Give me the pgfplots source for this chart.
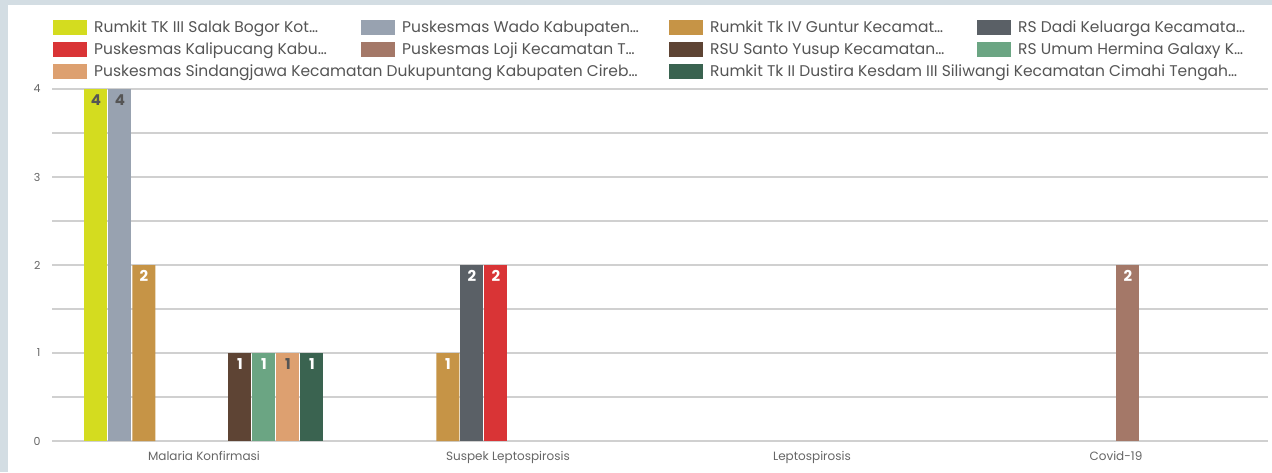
\documentclass[border=0pt]{standalone}
\usepackage{pgfplots}
\pgfplotsset{compat=1.18}
\usepackage{fontspec}
\setmainfont{Poppins}
\definecolor{c1}{HTML}{D4DC1F}
\definecolor{c2}{HTML}{98A2B0}
\definecolor{c3}{HTML}{C69446}
\definecolor{c4}{HTML}{5A6066}
\definecolor{c5}{HTML}{D93436}
\definecolor{c6}{HTML}{A47868}
\definecolor{c7}{HTML}{5E4434}
\definecolor{c8}{HTML}{6BA583}
\definecolor{c9}{HTML}{DDA070}
\definecolor{c10}{HTML}{3A6350}
\definecolor{bgc}{HTML}{D3DDE3}
\definecolor{gridc}{HTML}{D0D0D0}
\definecolor{zeroc}{HTML}{888888}
\definecolor{tickc}{HTML}{666666}
\definecolor{legc}{HTML}{555555}
\definecolor{labdark}{HTML}{555555}
\newcommand{\legtxt}[1]{\hspace*{7pt}\makebox[267pt][l]{#1}}
\begin{document}
\begin{tikzpicture}
\useasboundingbox (0pt,0pt) rectangle (1272pt,472pt);
\fill[bgc] (0pt,0pt) rectangle (1272pt,472pt);
\fill[white] (8pt,0pt) rectangle (1272pt,467pt);
\begin{axis}[
  at={(52pt,31pt)}, anchor=south west,
  scale only axis, width=1216pt, height=352pt,
  ybar=1pt, bar width=23pt,
  xmin=-0.5, xmax=3.5, ymin=0, ymax=4,
  xtick={0,1,2,3},
  xticklabels={Malaria Konfirmasi, Suspek Leptospirosis, Leptospirosis, Covid-19},
  ytick={1,2,3,4}, minor ytick={0.5,1.5,2.5,3.5},
  extra y ticks={0}, extra y tick labels={0},
  extra y tick style={grid style={line width=2pt, color=zeroc}},
  ymajorgrids, yminorgrids,
  major grid style={line width=1.5pt, color=gridc},
  minor grid style={line width=1.5pt, color=gridc},
  axis line style={draw=none},
  major tick length=0pt, minor tick length=0pt,
  /pgf/number format/assume math mode=true,
  tick label style={text=tickc},
  xticklabel style={font=\fontsize{12}{14}\selectfont, yshift=-7pt},
  yticklabel style={font=\fontsize{11}{13}\selectfont, xshift=-8pt},
  nodes near coords,
  nodes near coords align=below,
  nodes near coords style={font=\fontsize{15}{15}\selectfont\bfseries, text=white, inner sep=1pt, yshift=-4pt},
  legend columns=4,
  legend cell align=left,
  legend style={at={(axis description cs:0.0008,1.196)}, anchor=north west,
    draw=none, fill=none, inner sep=0pt, column sep=0pt, row sep=7pt,
    nodes={inner sep=0pt}, font=\fontsize{15.5}{17}\selectfont, text=legc},
  legend image code/.code={\fill (0pt,-7.5pt) rectangle (34pt,7.5pt);},
]
\addplot[fill=c1, draw=none, nodes near coords style={text=labdark}] coordinates {(0,4)};
\addlegendentry{\legtxt{Rumkit TK III Salak Bogor Kot…}}
\addplot[fill=c2, draw=none, nodes near coords style={text=labdark}] coordinates {(0,4)};
\addlegendentry{\legtxt{Puskesmas Wado Kabupaten…}}
\addplot[fill=c3, draw=none] coordinates {(0,2) (1,1)};
\addlegendentry{\legtxt{Rumkit Tk IV Guntur Kecamat…}}
\addplot[fill=c4, draw=none] coordinates {(1,2)};
\addlegendentry{\legtxt{RS Dadi Keluarga Kecamata…}}
\addplot[fill=c5, draw=none] coordinates {(1,2)};
\addlegendentry{\legtxt{Puskesmas Kalipucang Kabu…}}
\addplot[fill=c6, draw=none] coordinates {(3,2)};
\addlegendentry{\legtxt{Puskesmas Loji Kecamatan T…}}
\addplot[fill=c7, draw=none] coordinates {(0,1)};
\addlegendentry{\legtxt{RSU Santo Yusup Kecamatan…}}
\addplot[fill=c8, draw=none] coordinates {(0,1)};
\addlegendentry{\legtxt{RS Umum Hermina Galaxy K…}}
\addplot[fill=c9, draw=none, nodes near coords style={text=labdark}] coordinates {(0,1)};
\addlegendentry{\legtxt{Puskesmas Sindangjawa Kecamatan Dukupuntang Kabupaten Cireb…}}
\addlegendimage{empty legend}
\addlegendentry{}
\addplot[fill=c10, draw=none] coordinates {(0,1)};
\addlegendentry{\legtxt{Rumkit Tk II Dustira Kesdam III Siliwangi Kecamatan Cimahi Tengah…}}
\end{axis}
\end{tikzpicture}
\end{document}
